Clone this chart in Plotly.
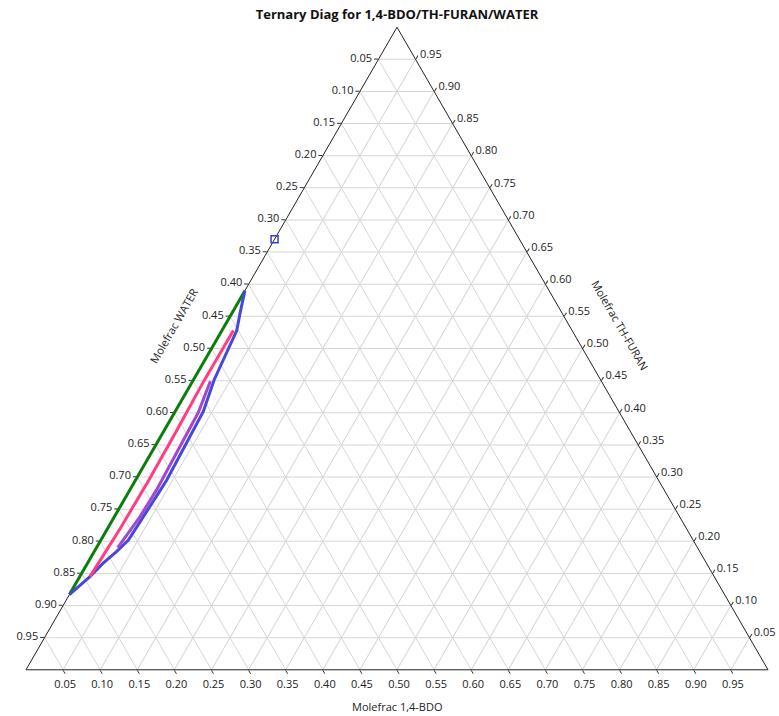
import plotly.graph_objects as go

# Ternary axes: a = TH-FURAN (top), b = WATER (bottom-left), c = 1,4-BDO (bottom-right)
tick_vals = [round(0.05 * i, 2) for i in range(1, 20)]

# Curve 1 (green): along the WATER / TH-FURAN edge
green_bdo = [0.0, 0.0]
green_thf = [0.590, 0.117]

# Curve 2 (blue)
blue_bdo = [0.0, 0.011, 0.020, 0.028, 0.038, 0.042, 0.041, 0.039, 0.037, 0.030, 0.021, 0.0137, 0.0]
blue_thf = [0.590, 0.555, 0.528, 0.451, 0.402, 0.295, 0.275, 0.238, 0.202, 0.184, 0.166, 0.145, 0.117]

# Curve 3 (purple)
purple_bdo = [0.024, 0.032, 0.036, 0.0345, 0.0286]
purple_thf = [0.449, 0.400, 0.280, 0.238, 0.190]

# Curve 4 (pink)
pink_bdo = [0.0155, 0.015, 0.017, 0.018, 0.017, 0.0137]
pink_thf = [0.528, 0.450, 0.370, 0.295, 0.220, 0.145]

# Azeotrope point
azeo_bdo = [0.0]
azeo_thf = [0.67]


def water(bdo, thf):
    return [1 - x - y for x, y in zip(bdo, thf)]


fig = go.Figure()

series = [
    (green_bdo, green_thf, "#0b7d0b"),
    (blue_bdo, blue_thf, "#4848d8"),
    (purple_bdo, purple_thf, "#a246d4"),
    (pink_bdo, pink_thf, "#ff3d80"),
]
for bdo, thf, col in series:
    fig.add_trace(go.Scatterternary(
        a=thf, b=water(bdo, thf), c=bdo,
        mode="lines", line=dict(color=col, width=3),
        cliponaxis=False,
        hoverinfo="skip", showlegend=False,
    ))

fig.add_trace(go.Scatterternary(
    a=azeo_thf, b=water(azeo_bdo, azeo_thf), c=azeo_bdo,
    mode="markers",
    marker=dict(symbol="square-open", size=7, color="#3a3ad0", line=dict(width=1.5)),
    cliponaxis=False,
    hoverinfo="skip", showlegend=False,
))

axis_common = dict(
    tickmode="array",
    tickvals=tick_vals,
    ticktext=[f"{1 - v:.2f}" for v in tick_vals],
    ticks="outside", ticklen=4, tickcolor="#333333",
    linecolor="#222222", linewidth=1,
    gridcolor="#d6d6d6", gridwidth=1,
    showgrid=True,
    layer="below traces",
    tickfont=dict(size=11, color="#222222"),
    title=dict(text=""),
    min=0,
)

fig.update_layout(
    width=779, height=716,
    margin=dict(l=26, r=11, t=27, b=46),
    paper_bgcolor="white",
    font=dict(family="Open Sans, Noto Sans, sans-serif", color="#222222"),
    title=dict(
        text="<b>Ternary Diag for 1,4-BDO/TH-FURAN/WATER</b>",
        x=0.5, xref="paper", xanchor="center",
        y=1 - 14 / 716, yref="container", yanchor="middle",
        font=dict(size=13, color="#111111"),
    ),
    ternary=dict(
        sum=1,
        bgcolor="white",
        domain=dict(x=[0, 1], y=[0, 1]),
        aaxis=axis_common,
        baxis=axis_common,
        caxis=axis_common,
    ),
    annotations=[
        dict(text="Molefrac WATER", xref="paper", yref="paper",
             x=0.1995, y=0.535, xanchor="center", yanchor="middle",
             textangle=-60, showarrow=False, font=dict(size=11, color="#222222")),
        dict(text="Molefrac TH-FURAN", xref="paper", yref="paper",
             x=0.8015, y=0.5365, xanchor="center", yanchor="middle",
             textangle=60, showarrow=False, font=dict(size=11, color="#222222")),
        dict(text="Molefrac 1,4-BDO", xref="paper", yref="paper",
             x=0.5, y=-0.056, xanchor="center", yanchor="middle",
             showarrow=False, font=dict(size=11, color="#222222")),
    ],
)

# Let curves lying on the triangle edge draw at full width (no clipping to the frame)
unclip_js = """
var gd = document.getElementById('{plot_id}');
gd.querySelectorAll('.ternary .scatterlayer [clip-path]').forEach(function (el) {
    el.removeAttribute('clip-path');
});
gd.querySelectorAll('.ternary .scatterlayer').forEach(function (el) {
    el.removeAttribute('clip-path');
});
"""

fig.write_html("out.html", post_script=unclip_js)
